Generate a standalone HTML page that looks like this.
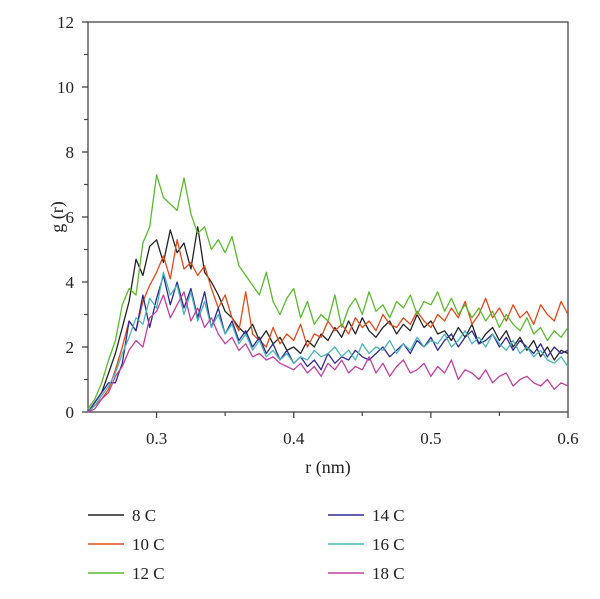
<!DOCTYPE html>
<html><head><meta charset="utf-8"><style>
body{margin:0;background:#fff;}
svg{display:block;font-family:"Liberation Serif",serif;}
</style></head><body>
<svg id="chart" width="600" height="599" viewBox="0 0 600 599">
<g id="axes"></g>
<g id="series"></g>
<g id="legend"></g>
</svg>
<script>
const seriesNames = ["8 C","10 C","12 C","14 C","16 C","18 C"];
const seriesColors = ["#222222","#e04a1a","#5cb82e","#2e2a8f","#4ab5b8","#c040a0"];
const xTicks = [0.3,0.4,0.5,0.6];
const xMinorTicks = [0.35,0.45,0.55];
const yTicks = [0,2,4,6,8,10,12];
const yMinorTicks = [1,3,5,7,9,11];
const s8 = [0,0.3,0.6,1.2,1.8,2.6,3.4,4.7,4.2,5.1,5.3,4.6,5.6,4.9,5.2,4.4,5.7,4.3,4.0,3.6,3.1,2.9,2.6,2.4,2.7,2.2,2.5,2.1,2.3,1.9,2.0,1.8,2.2,2.0,2.4,2.2,2.6,2.3,2.8,2.4,2.9,2.5,2.3,2.6,2.8,2.4,2.7,2.5,3.0,2.6,2.8,2.4,2.5,2.2,2.6,2.3,2.7,2.1,2.4,2.6,2.2,2.5,2.0,2.3,1.9,2.2,1.7,2.0,1.6,1.9,1.8];
const s10 = [0,0.2,0.4,0.7,1.3,2.0,2.8,2.5,3.4,3.9,4.3,4.8,4.1,5.3,4.4,4.6,4.2,4.5,3.8,3.2,3.6,2.9,2.5,3.7,2.4,2.2,2.0,2.6,2.1,2.4,2.2,2.7,2.0,2.4,2.3,2.8,2.5,2.7,2.4,2.9,2.6,2.8,2.5,3.0,2.7,2.6,2.9,2.7,3.1,2.8,2.6,3.0,2.8,3.2,2.9,3.4,2.7,3.0,3.5,2.9,3.2,2.8,3.3,2.9,3.1,2.7,3.3,3.0,2.8,3.4,3.0];
const s12 = [0.1,0.4,0.9,1.6,2.2,3.3,3.8,3.6,5.2,5.7,7.3,6.6,6.4,6.2,7.2,6.1,5.5,5.7,5.0,5.3,4.9,5.4,4.5,4.2,3.9,3.6,4.3,3.4,3.0,3.5,3.8,2.9,3.4,2.7,3.0,2.8,3.6,2.6,3.2,3.5,3.0,3.7,3.1,3.3,2.9,3.4,3.2,3.6,3.0,3.4,3.3,3.7,3.1,3.5,3.0,3.3,2.9,3.2,2.8,3.1,2.6,3.0,2.7,2.5,2.9,2.4,2.6,2.2,2.5,2.3,2.6];
const s14 = [0,0.3,0.6,0.9,0.9,1.5,2.8,2.5,3.6,2.6,3.5,4.2,3.3,4.0,3.2,3.8,2.9,3.7,2.6,3.2,2.4,2.8,2.2,2.5,2.0,2.3,1.8,2.1,1.6,1.9,1.5,1.7,1.4,1.6,1.3,1.8,1.5,1.7,1.6,1.9,1.7,1.6,1.8,2.0,1.7,1.9,2.1,1.8,2.2,2.0,2.3,1.9,2.2,2.4,2.0,2.3,2.5,2.1,2.2,2.4,2.0,2.3,1.9,2.2,2.0,1.8,2.1,1.7,2.0,1.8,1.9];
const s16 = [0,0.2,0.5,0.8,1.2,1.8,2.3,2.9,2.7,3.5,3.2,4.3,3.6,3.9,3.0,3.7,2.8,3.4,2.6,3.0,2.4,2.7,2.1,2.4,1.9,2.2,1.7,1.9,1.6,1.8,1.5,1.7,1.6,1.9,1.7,1.8,2.0,1.7,1.9,1.6,2.1,1.8,2.0,1.9,2.2,1.8,2.1,1.9,2.3,2.0,2.2,2.1,2.4,2.0,2.2,2.5,2.1,2.3,2.0,2.4,2.1,1.9,2.2,1.8,2.0,1.7,1.9,1.6,1.5,1.7,1.4];
const s18 = [0,0.1,0.4,0.6,1.1,1.4,1.9,2.2,2.0,2.9,3.1,3.6,2.9,3.3,3.7,2.8,3.2,2.6,2.9,2.4,2.1,2.3,1.9,2.1,1.7,1.8,1.6,1.7,1.5,1.4,1.3,1.5,1.2,1.4,1.1,1.5,1.3,1.6,1.2,1.4,1.3,1.7,1.2,1.5,1.1,1.4,1.6,1.2,1.3,1.5,1.1,1.4,1.2,1.6,1.0,1.3,1.2,1.0,1.3,0.9,1.1,1.2,0.8,1.0,1.1,0.9,0.8,1.0,0.7,0.9,0.8];
const allSeries = [s8,s10,s12,s14,s16,s18];
const xMin = 0.25, xMax = 0.6, yMin = 0, yMax = 12;

const L=88, R=568, T=22, B=412;
const NS="http://www.w3.org/2000/svg";
function xs(v){return L+(v-xMin)/(xMax-xMin)*(R-L);}
function ys(v){return B-(v-yMin)/(yMax-yMin)*(B-T);}
function mk(tag,attrs,parent){const e=document.createElementNS(NS,tag);for(const k in attrs)e.setAttribute(k,attrs[k]);parent.appendChild(e);return e;}
const axes=document.getElementById('axes');
const frame=mk('rect',{x:L,y:T,width:R-L,height:B-T,fill:'none',stroke:'#444','stroke-width':1.3},axes);


yTicks.forEach(v=>{
  const t=mk('line',{x1:L-6,x2:L,y1:ys(v),y2:ys(v),stroke:'#444','stroke-width':1.3},axes);
  
  
  const tx=mk('text',{x:L-14,y:ys(v)+6,'text-anchor':'end','font-size':17,fill:'#222'},axes);
  tx.textContent=v;
  
  
});
yMinorTicks.forEach(v=>{
  const t=mk('line',{x1:L-4,x2:L,y1:ys(v),y2:ys(v),stroke:'#444','stroke-width':1.2},axes);
  
  
});
xTicks.forEach(v=>{
  const t=mk('line',{x1:xs(v),x2:xs(v),y1:B,y2:B+6,stroke:'#444','stroke-width':1.3},axes);
  
  
  const tx=mk('text',{x:xs(v),y:B+32,'text-anchor':'middle','font-size':17,fill:'#222'},axes);
  tx.textContent=v.toFixed(1);
  
  
});
xMinorTicks.forEach(v=>{
  const t=mk('line',{x1:xs(v),x2:xs(v),y1:B,y2:B+4,stroke:'#444','stroke-width':1.2},axes);
  
  
});
const xt=mk('text',{x:328,y:473,'text-anchor':'middle','font-size':18,fill:'#222'},axes);
xt.textContent='r (nm)';


const yt=mk('text',{x:0,y:0,'text-anchor':'middle','font-size':18,fill:'#222',transform:'translate(63,217) rotate(-90)'},axes);
yt.textContent='g (r)';



const sg=document.getElementById('series');
allSeries.forEach((arr,si)=>{
  const n=arr.length;
  const pts=arr.map((v,i)=>xs(xMin+i*(xMax-xMin)/(n-1)).toFixed(1)+','+ys(v).toFixed(1)).join(' ');
  const p=mk('polyline',{points:pts,fill:'none',stroke:seriesColors[si],'stroke-width':1.3,'stroke-linejoin':'round'},sg);
  
  
});

const lg=document.getElementById('legend');
seriesNames.forEach((nm,i)=>{
  const col=Math.floor(i/3), row=i%3;
  const x0=col===0?88:328, y0=515+row*29;
  const g=mk('g',{},lg);
  
  
  mk('line',{x1:x0,x2:x0+36,y1:y0,y2:y0,stroke:seriesColors[i],'stroke-width':1.5},g);
  const t=mk('text',{x:x0+44,y:y0+6,'font-size':17,fill:'#222'},g);
  t.textContent=nm;
});
</script>
</body></html>
